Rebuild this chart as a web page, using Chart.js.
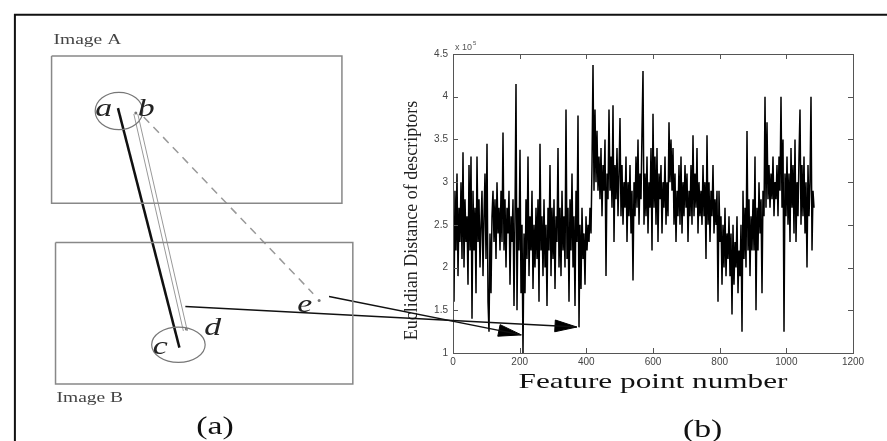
<!DOCTYPE html>
<html>
<head>
<meta charset="utf-8">
<script src="https://cdn.jsdelivr.net/npm/chart.js@4.4.1/dist/chart.umd.min.js"></script>
<style>
  html, body { margin: 0; padding: 0; background: #fff; }
  #wrap { position: relative; width: 887px; height: 441px; overflow: hidden; }
  #wrap canvas { position: absolute; left: 0; top: 0; }
</style>
</head>
<body>
<div id="wrap">
  <canvas id="plot" width="887" height="441"></canvas>
  <canvas id="sketch" width="887" height="441"></canvas>
</div>
<script>
// Panel (b): distance of descriptors (x 1e5), one value every featureStep points
const featureStep = 3;
const distances = [
  2.4, 1.6, 2.9, 2.2, 3.1, 1.9, 2.7, 2.3, 3.0, 2.1, 3.35, 2.0,
  2.8, 2.3, 2.6, 1.8, 3.2, 2.2, 3.3, 1.4, 2.9, 2.2, 2.7, 1.7,
  3.3, 2.3, 2.8, 2.0, 2.5, 2.9, 1.9, 2.6, 3.1, 2.1, 3.45, 1.6,
  1.25, 2.4, 1.7, 2.6, 2.9, 2.3, 2.8, 2.1, 3.0, 2.4, 2.7, 2.2,
  2.9, 2.3, 3.58, 2.2, 2.8, 2.0, 2.7, 2.4, 2.9, 1.8, 2.6, 2.3,
  2.8, 1.55, 2.6, 4.15, 1.5, 2.7, 2.2, 3.38, 1.7, 2.5, 1.0, 2.4,
  1.7, 2.8, 2.1, 3.3, 1.9, 2.6, 2.2, 2.9, 1.75, 2.5, 2.0, 2.7,
  2.1, 2.8, 1.6, 3.45, 2.2, 2.6, 1.9, 2.8, 2.0, 2.5, 1.55, 2.7,
  2.2, 3.2, 1.9, 2.7, 2.1, 2.8, 1.75, 2.6, 2.3, 3.4, 2.0, 2.7,
  1.9, 2.9, 2.2, 2.6, 2.0, 3.85, 2.1, 2.7, 1.6, 2.8, 2.2, 3.1,
  2.0, 2.6, 1.55, 2.9, 2.3, 3.78, 1.3, 2.5, 1.75, 2.7, 2.1, 2.4,
  1.8, 2.6, 2.2, 2.5, 2.3, 2.7, 2.4, 3.2, 4.37, 2.9, 3.85, 3.0,
  3.6, 2.9, 3.3, 2.8, 3.4, 2.6, 3.2, 2.9, 3.5, 1.9, 3.1, 2.8,
  3.85, 2.9, 3.3, 2.7, 3.9, 2.3, 3.2, 2.8, 3.4, 2.6, 3.1, 3.75,
  2.6, 3.2, 2.5, 3.0, 2.7, 3.3, 2.3, 3.0, 2.6, 3.2, 2.4, 2.9,
  1.85, 3.0, 2.6, 3.3, 2.7, 3.5, 2.5, 3.1, 2.8, 3.6, 4.3, 2.5,
  3.1, 2.6, 3.3, 2.4, 3.0, 2.7, 3.4, 2.2, 3.8, 2.7, 3.3, 2.5,
  3.4, 2.3, 3.1, 2.8, 3.2, 2.4, 3.0, 2.7, 3.3, 2.5, 3.0, 2.6,
  3.7, 3.0, 3.5, 2.9, 3.4, 2.5, 3.1, 2.3, 2.9, 2.6, 3.2, 2.5,
  3.3, 2.4, 3.0, 2.6, 3.2, 2.7, 3.1, 2.3, 2.9, 2.6, 3.2, 2.5,
  3.55, 2.6, 3.1, 2.7, 3.4, 2.4, 3.0, 2.6, 2.9, 2.5, 3.2, 2.6,
  3.0, 2.1, 3.55, 2.5, 3.0, 2.3, 2.9, 2.6, 3.2, 2.4, 2.8, 2.5,
  2.9, 1.6, 2.9, 2.3, 2.6, 1.8, 2.5, 2.0, 2.7, 1.9, 2.4, 2.1,
  2.6, 1.9, 2.4, 1.45, 2.5, 1.8, 2.3, 2.0, 2.6, 1.7, 2.2, 1.9,
  2.5, 1.25, 2.9, 2.1, 2.7, 2.0, 3.6, 2.2, 2.8, 1.9, 2.6, 2.2,
  2.8, 2.2, 3.3, 1.5, 2.7, 2.2, 3.0, 2.4, 2.8, 1.7, 2.9, 2.6,
  4.0, 2.7, 3.7, 2.8, 3.2, 2.7, 3.1, 2.8, 3.3, 2.6, 3.0, 2.8,
  3.2, 2.6, 3.3, 2.9, 4.0, 2.7, 3.5, 1.25, 3.1, 2.6, 3.3, 2.5,
  3.1, 2.3, 3.4, 2.7, 3.2, 2.4, 3.5, 2.3, 3.0, 2.6, 3.3, 3.85,
  2.5, 3.2, 2.6, 3.3, 2.4, 3.0, 2.0, 3.2, 2.6, 3.0, 4.0, 2.2,
  2.9, 2.7
];
const xTicks = [0, 200, 400, 600, 800, 1000, 1200];
const yTicks = [1, 1.5, 2, 2.5, 3, 3.5, 4, 4.5];
const xTitle = 'Feature point number';
const yTitle = 'Euclidian Distance of descriptors';
const yExponent = '5';

// draw text squeezed/stretched horizontally (the scanned figure is widened)
function stretchedText(ctx, text, x, y, font, sx, align, color) {
  ctx.save();
  ctx.translate(x, y);
  ctx.scale(sx, 1);
  ctx.font = font;
  ctx.fillStyle = color;
  ctx.textAlign = align || 'left';
  ctx.textBaseline = 'alphabetic';
  ctx.fillText(text, 0, 0);
  ctx.restore();
}

// MATLAB style box, inward ticks, axis titles
const matlabFrame = {
  id: 'matlabFrame',
  afterDraw(chart) {
    const { ctx, chartArea: a, scales: { x, y } } = chart;
    ctx.save();
    ctx.strokeStyle = '#555';
    ctx.lineWidth = 1;
    ctx.strokeRect(a.left + 0.5, a.top + 0.5, a.right - a.left, a.bottom - a.top);
    ctx.beginPath();
    xTicks.forEach(v => {
      const px = Math.round(x.getPixelForValue(v)) + 0.5;
      ctx.moveTo(px, a.bottom); ctx.lineTo(px, a.bottom - 5);
      ctx.moveTo(px, a.top); ctx.lineTo(px, a.top + 5);
    });
    yTicks.forEach(v => {
      const py = Math.round(y.getPixelForValue(v)) + 0.5;
      ctx.moveTo(a.left, py); ctx.lineTo(a.left + 5, py);
      ctx.moveTo(a.right, py); ctx.lineTo(a.right - 5, py);
    });
    ctx.stroke();

    // exponent note above the y axis
    ctx.fillStyle = '#555';
    ctx.font = '9px "Liberation Sans"';
    ctx.textAlign = 'left';
    ctx.fillText('x 10', a.left + 2, a.top - 4);
    const w = ctx.measureText('x 10').width;
    ctx.font = '6px "Liberation Sans"';
    ctx.fillText(yExponent, a.left + 3 + w, a.top - 9);
    ctx.restore();

    stretchedText(ctx, xTitle, (a.left + a.right) / 2, a.bottom + 35,
      '22px "Liberation Serif"', 1.42, 'center', '#111');

    ctx.save();
    ctx.translate(a.left - 36, (a.top + a.bottom) / 2 + 17);
    ctx.rotate(-Math.PI / 2);
    ctx.font = '18px "Liberation Serif"';
    ctx.fillStyle = '#222';
    ctx.textAlign = 'center';
    ctx.fillText(yTitle, 0, 0);
    ctx.restore();
  }
};

const tickFont = { family: 'Liberation Sans', size: 10 };

new Chart(document.getElementById('plot'), {
  type: 'line',
  data: {
    datasets: [{
      data: distances.map((v, i) => ({ x: i * featureStep, y: v })),
      borderColor: '#000',
      borderWidth: 1.5,
      pointRadius: 0,
      tension: 0
    }]
  },
  options: {
    responsive: false,
    animation: false,
    devicePixelRatio: 1,
    events: [],
    layout: { padding: { left: 405, top: 54, right: 34, bottom: 47 } },
    plugins: { legend: { display: false }, tooltip: { enabled: false } },
    scales: {
      x: {
        type: 'linear', min: 0, max: 1200,
        afterBuildTicks: s => { s.ticks = xTicks.map(v => ({ value: v })); },
        afterFit: s => { s.height = 41; },
        grid: { display: false, drawTicks: false },
        border: { display: false },
        ticks: { padding: 3, font: tickFont, color: '#444', maxRotation: 0, autoSkip: false, callback: v => String(v) }
      },
      y: {
        type: 'linear', min: 1, max: 4.5,
        afterBuildTicks: s => { s.ticks = yTicks.map(v => ({ value: v })); },
        afterFit: s => { s.width = 48; },
        grid: { display: false, drawTicks: false },
        border: { display: false },
        ticks: { padding: 5, font: tickFont, color: '#444', autoSkip: false, callback: v => String(v) }
      }
    }
  },
  plugins: [matlabFrame]
});

// Panel (a) sketch and the arrows, in figure pixel units
const outerFrame = [{ x: 11, y: 470 }, { x: 11, y: 11 }, { x: 900, y: 11 }];
const imageA = [{ x: 48, y: 53 }, { x: 341, y: 53 }, { x: 341, y: 203 }, { x: 48, y: 203 }, { x: 48, y: 53 }];
const imageB = [{ x: 52, y: 243 }, { x: 352, y: 243 }, { x: 352, y: 387 }, { x: 52, y: 387 }, { x: 52, y: 243 }];
const matchAC = [{ x: 115, y: 106 }, { x: 177, y: 350 }];
const matchBD1 = [{ x: 131, y: 112 }, { x: 181, y: 333 }];
const matchBD2 = [{ x: 135, y: 112 }, { x: 185, y: 333 }];
const matchBE = [{ x: 141, y: 115 }, { x: 312, y: 295 }];
const arrowD = [{ x: 183, y: 308 }, { x: 578, y: 329 }];
const arrowE = [{ x: 328, y: 298 }, { x: 522, y: 337 }];
const keyPoints = [{ x: 133, y: 111 }, { x: 184, y: 331 }, { x: 318, y: 302 }];
const regions = [
  { x: 116, y: 109, rx: 24, ry: 19 },
  { x: 176, y: 347, rx: 27, ry: 18 }
];
const sketchLabels = [
  { text: 'Image A', x: 50, y: 41, font: '15px "Liberation Serif"', sx: 1.3, color: '#444' },
  { text: 'Image B', x: 53, y: 405, font: '15px "Liberation Serif"', sx: 1.3, color: '#444' },
  { text: 'a', x: 92, y: 114, font: 'italic 26px "Liberation Serif"', sx: 1.3, color: '#222' },
  { text: 'b', x: 135, y: 114, font: 'italic 26px "Liberation Serif"', sx: 1.3, color: '#222' },
  { text: 'c', x: 150, y: 356, font: 'italic 26px "Liberation Serif"', sx: 1.3, color: '#222' },
  { text: 'd', x: 202, y: 337, font: 'italic 26px "Liberation Serif"', sx: 1.3, color: '#222' },
  { text: 'e', x: 296, y: 314, font: 'italic 26px "Liberation Serif"', sx: 1.3, color: '#222' },
  { text: '(a)', x: 213, y: 438, font: '26px "Liberation Serif"', sx: 1.3, color: '#111', align: 'center' },
  { text: '(b)', x: 705, y: 441, font: '26px "Liberation Serif"', sx: 1.3, color: '#111', align: 'center' }
];

function arrowHead(seg, len, half) {
  const [p, t] = seg;
  const d = Math.hypot(t.x - p.x, t.y - p.y);
  const ux = (t.x - p.x) / d, uy = (t.y - p.y) / d;
  const bx = t.x - ux * len, by = t.y - uy * len;
  return [t, { x: bx - uy * half, y: by + ux * half }, { x: bx + uy * half, y: by - ux * half }, t];
}

function stroke(data, color, width, dash) {
  return { data, borderColor: color, borderWidth: width, borderDash: dash || [], pointRadius: 0, fill: false, clip: false, tension: 0 };
}

const sketchExtras = {
  id: 'sketchExtras',
  afterDatasetsDraw(chart) {
    const { ctx, scales: { x, y } } = chart;
    ctx.save();
    ctx.strokeStyle = '#777';
    ctx.lineWidth = 1.2;
    regions.forEach(r => {
      const cx = x.getPixelForValue(r.x), cy = y.getPixelForValue(r.y);
      ctx.beginPath();
      ctx.ellipse(cx, cy, x.getPixelForValue(r.x + r.rx) - cx, y.getPixelForValue(r.y + r.ry) - cy, 0, 0, Math.PI * 2);
      ctx.stroke();
    });
    ctx.restore();
    sketchLabels.forEach(l => stretchedText(ctx, l.text, x.getPixelForValue(l.x), y.getPixelForValue(l.y), l.font, l.sx, l.align, l.color));
  }
};

new Chart(document.getElementById('sketch'), {
  type: 'line',
  data: {
    datasets: [
      stroke(outerFrame, '#111', 2),
      stroke(imageA, '#888', 1.5),
      stroke(imageB, '#888', 1.5),
      stroke(matchBD1, '#999', 1),
      stroke(matchBD2, '#999', 1),
      stroke(matchBE, '#999', 1.5, [8, 6]),
      stroke(matchAC, '#111', 2.5),
      stroke(arrowD, '#111', 1.5),
      stroke(arrowE, '#111', 1.5),
      Object.assign(stroke(arrowHead(arrowD, 22, 6), '#000', 1), { fill: 'shape', backgroundColor: '#000' }),
      Object.assign(stroke(arrowHead(arrowE, 23, 6), '#000', 1), { fill: 'shape', backgroundColor: '#000' }),
      { data: keyPoints, showLine: false, pointRadius: 1.5, pointBackgroundColor: '#777', pointBorderWidth: 0, clip: false }
    ]
  },
  options: {
    responsive: false,
    animation: false,
    devicePixelRatio: 1,
    events: [],
    layout: { padding: 0 },
    plugins: { legend: { display: false }, tooltip: { enabled: false } },
    scales: {
      x: { type: 'linear', min: 0, max: 887, display: false },
      y: { type: 'linear', min: 0, max: 441, reverse: true, display: false }
    }
  },
  plugins: [sketchExtras]
});
</script>
</body>
</html>
